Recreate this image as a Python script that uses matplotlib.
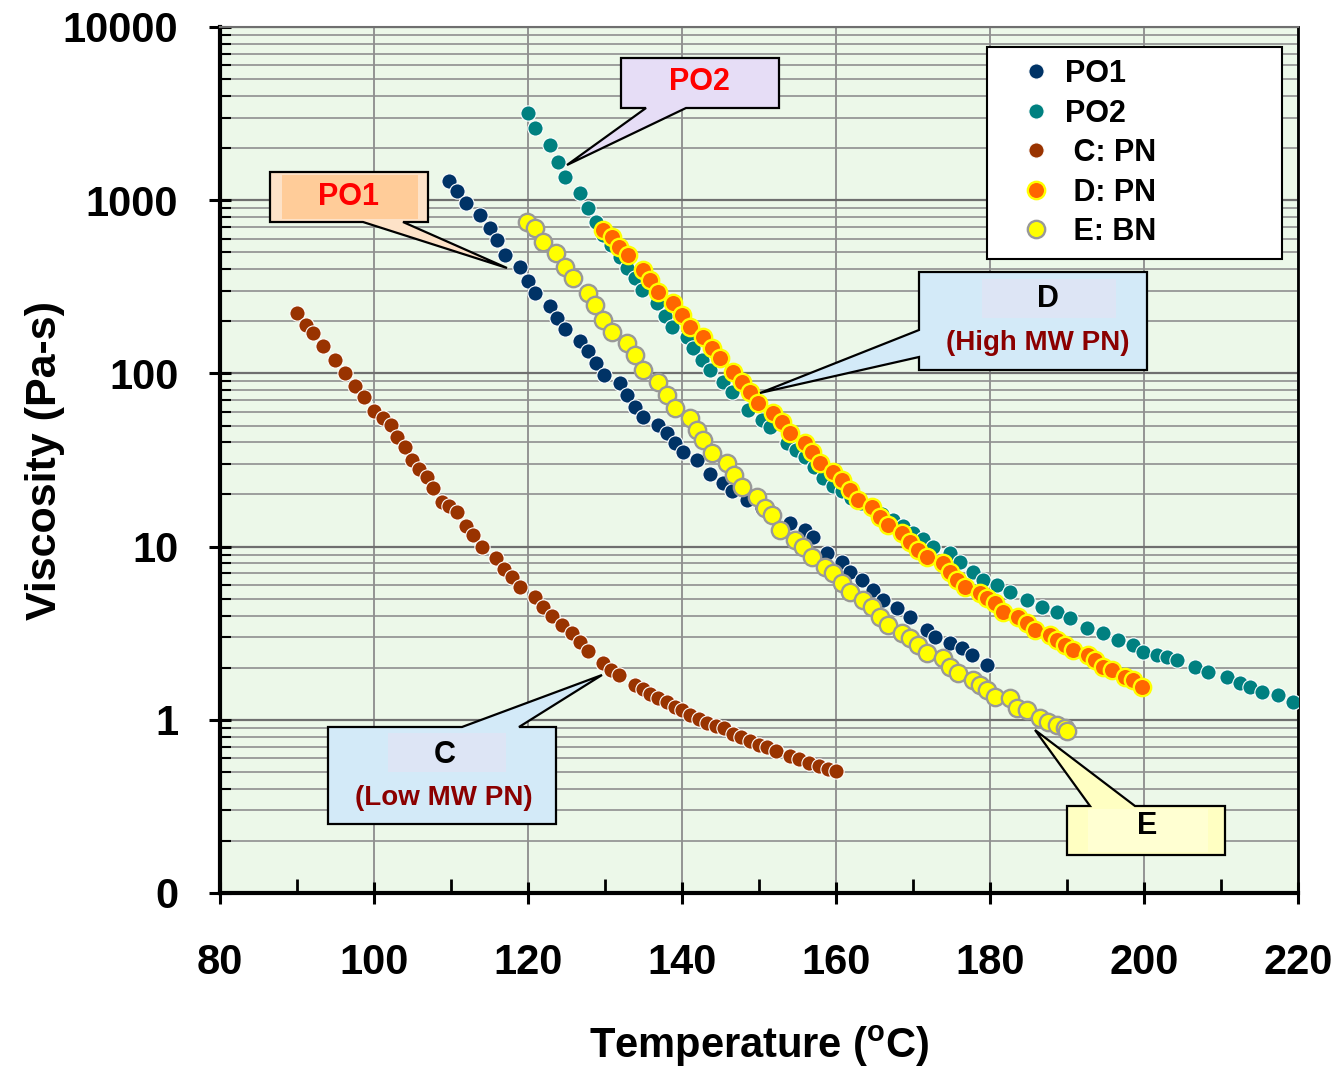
import matplotlib
matplotlib.use('Agg')
import matplotlib.pyplot as plt
from matplotlib.patches import Polygon, Rectangle
from matplotlib.lines import Line2D
from matplotlib.ticker import FixedLocator, FixedFormatter, MultipleLocator, LogLocator, NullFormatter

plt.rcParams['font.family'] = ['Liberation Sans', 'DejaVu Sans']
plt.rcParams['font.weight'] = 'bold'
plt.rcParams['mathtext.fontset'] = 'custom'
plt.rcParams['mathtext.rm'] = 'Liberation Sans:bold'
plt.rcParams['mathtext.bf'] = 'Liberation Sans:bold'
plt.rcParams['mathtext.it'] = 'Liberation Sans:bold'

# ---------------- data (Temperature in C, viscosity in Pa-s) ----------------
po1_t = [109.7, 110.8, 111.9, 113.8, 115.1, 116.0, 117.0, 119.0, 120.0, 120.9, 122.9, 123.8,
         124.8, 126.8, 127.8, 128.8, 129.9, 131.9, 132.9, 133.9, 134.9, 136.9, 138.1, 139.1,
         140.1, 141.9, 143.7, 145.3, 146.5, 148.4, 150.4, 151.8, 154.0, 156.0, 157.0, 158.8,
         160.8, 161.8, 163.4, 164.8, 166.1, 167.9, 169.6, 171.8, 172.9, 174.8, 176.4, 177.7, 179.6]
po1_v = [1288, 1130, 964, 822, 692, 589, 483, 411, 341, 291, 245, 209,
         180, 154, 135, 115, 97.7, 88.1, 75.0, 64.0, 56.0, 50.4, 45.3, 39.6,
         35.2, 31.6, 26.3, 23.3, 20.9, 18.6, 16.7, 15.6, 13.7, 12.5, 11.4, 9.18,
         8.15, 7.13, 6.41, 5.61, 4.92, 4.42, 3.93, 3.31, 3.02, 2.77, 2.60, 2.37, 2.07]

po2_t = [120.0, 120.9, 122.9, 123.9, 124.8, 126.8, 127.8, 128.8, 129.8, 130.8, 131.9, 132.9,
         133.9, 134.8, 136.8, 137.8, 138.7, 140.6, 141.4, 142.6, 143.6, 145.3, 146.5, 148.6,
         150.4, 151.4, 153.6, 154.8, 156.0, 157.2, 158.3, 159.6, 160.8, 162.0, 163.3, 164.6,
         166.0, 167.4, 168.7, 170.0, 171.3, 172.6, 174.8, 176.1, 177.8, 179.1, 180.9, 182.6,
         184.8, 186.8, 188.7, 190.4, 192.6, 194.7, 196.6, 198.6, 199.9, 201.7, 203.0, 204.3,
         206.6, 208.3, 210.8, 212.5, 213.8, 215.3, 217.4, 219.4]
po2_v = [3184, 2612, 2084, 1663, 1361, 1102, 902, 748, 631, 550, 468, 407,
         356, 303, 255, 214, 185, 162, 140, 119, 105, 89.1, 78.2, 61.5,
         53.8, 49.0, 39.6, 36.3, 32.9, 28.8, 24.9, 22.4, 20.9, 19.1, 17.8, 16.6,
         15.5, 14.3, 13.2, 12.0, 11.0, 9.95, 9.18, 8.15, 7.13, 6.41, 6.00, 5.47,
         4.92, 4.48, 4.19, 3.87, 3.39, 3.17, 2.89, 2.70, 2.46, 2.37, 2.29, 2.21,
         2.02, 1.89, 1.77, 1.63, 1.55, 1.45, 1.39, 1.27]

c_t = [90.0, 91.2, 92.1, 93.4, 94.9, 96.2, 97.5, 98.7, 100.0, 101.2, 102.2, 103.0,
       104.0, 104.9, 105.8, 106.9, 107.7, 108.8, 109.8, 110.8, 111.9, 112.9, 114.0, 115.8,
       116.9, 117.9, 119.0, 120.9, 122.0, 123.1, 124.4, 125.7, 126.8, 127.8, 129.7, 130.8,
       131.8, 133.9, 134.9, 135.9, 136.9, 138.0, 139.1, 140.0, 141.1, 142.2, 143.3, 144.4,
       145.5, 146.6, 147.7, 148.8, 150.0, 151.1, 152.2, 154.0, 155.2, 156.5, 157.8, 159.0, 160.0]
c_v = [223, 190, 171, 144, 119, 100, 84.5, 73.1, 60.7, 55.0, 50.4, 43.0,
       37.6, 31.6, 28.2, 25.2, 21.8, 18.1, 17.2, 15.8, 13.2, 11.7, 10.0, 8.59,
       7.41, 6.67, 5.85, 5.12, 4.47, 3.97, 3.55, 3.17, 2.82, 2.51, 2.14, 1.95,
       1.82, 1.58, 1.50, 1.41, 1.34, 1.26, 1.19, 1.14, 1.07, 1.01, 0.955, 0.923,
       0.891, 0.832, 0.794, 0.759, 0.716, 0.692, 0.661, 0.617, 0.596, 0.562, 0.543, 0.519, 0.506]

d_t = [129.7, 130.9, 131.8, 133.0, 134.9, 135.8, 136.9, 138.8, 140.0, 141.0, 142.7, 143.9,
       144.9, 146.6, 147.8, 148.8, 149.9, 151.8, 153.0, 154.0, 156.0, 156.9, 157.9, 159.6,
       160.8, 161.8, 162.9, 164.7, 165.7, 166.8, 168.6, 169.6, 170.6, 171.8, 173.9, 174.8,
       175.7, 176.8, 178.7, 179.6, 180.6, 181.7, 183.6, 184.8, 185.8, 187.8, 188.7, 189.7,
       190.8, 192.7, 193.6, 194.7, 195.8, 197.5, 198.6, 199.7]
d_v = [673, 614, 537, 483, 395, 346, 295, 255, 217, 185, 162, 140,
       123, 102, 89.1, 78.2, 67.5, 59.0, 52.4, 45.3, 39.6, 35.2, 30.4, 27.0,
       24.3, 21.2, 18.6, 16.9, 14.8, 13.3, 12.0, 10.6, 9.55, 8.71, 8.04, 7.13,
       6.41, 5.85, 5.40, 5.05, 4.72, 4.19, 3.93, 3.62, 3.30, 3.09, 2.89, 2.70,
       2.53, 2.37, 2.21, 2.02, 1.94, 1.77, 1.70, 1.55]

e_t = [119.9, 120.9, 121.9, 123.6, 124.8, 125.8, 127.8, 128.7, 129.7, 130.9, 132.9, 133.9,
       134.9, 136.9, 138.1, 139.1, 141.0, 141.9, 142.7, 143.9, 145.8, 146.8, 147.8, 149.7,
       150.8, 151.7, 152.7, 154.7, 155.7, 156.9, 158.6, 159.6, 160.8, 161.8, 163.5, 164.7,
       165.7, 166.8, 168.6, 169.6, 170.6, 171.8, 173.9, 174.8, 175.8, 177.8, 178.7, 179.6,
       180.6, 182.6, 183.5, 184.8, 186.5, 187.5, 188.7, 189.7, 190.0]
e_v = [748, 692, 574, 495, 411, 356, 291, 248, 203, 173, 150, 128,
       105, 89.1, 75.0, 63.1, 55.2, 47.1, 41.2, 34.7, 30.4, 25.9, 22.1, 19.3,
       16.7, 15.2, 12.5, 10.9, 9.95, 8.71, 7.62, 7.05, 6.17, 5.47, 4.92, 4.48,
       3.93, 3.52, 3.17, 2.96, 2.70, 2.43, 2.28, 2.02, 1.86, 1.70, 1.59, 1.49,
       1.36, 1.34, 1.17, 1.14, 1.02, 0.97, 0.93, 0.90, 0.86]

x_ticks = [80, 100, 120, 140, 160, 180, 200, 220]
y_ticks = [0.1, 1, 10, 100, 1000, 10000]
y_tick_labels = ['0', '1', '10', '100', '1000', '10000']

series = [
    ('PO1', po1_t, po1_v, dict(ms=11, mfc='#003366', mec='white', mew=0.8), 3),
    ('PO2', po2_t, po2_v, dict(ms=11, mfc='#008080', mec='white', mew=0.8), 3),
    (' C: PN', c_t, c_v, dict(ms=11, mfc='#993300', mec='white', mew=0.8), 3),
    (' D: PN', d_t, d_v, dict(ms=12.5, mfc='#ff6600', mec='#ffff00', mew=1.7), 4),
    (' E: BN', e_t, e_v, dict(ms=12.5, mfc='#ffff00', mec='#999999', mew=1.7), 5),
]

# ---------------- figure ----------------
W, H = 1338, 1072
fig = plt.figure(figsize=(W / 100, H / 100), dpi=100)
ax = fig.add_axes([220 / W, 1 - 893 / H, 1078 / W, 866 / H])
ax.set_facecolor('#ecf8e9')
ax.set_yscale('log')
ax.set_xlim(80, 220)
ax.set_ylim(0.1, 10000)

ax.xaxis.set_major_locator(FixedLocator(x_ticks))
ax.xaxis.set_minor_locator(MultipleLocator(10))
ax.yaxis.set_major_locator(FixedLocator(y_ticks))
ax.yaxis.set_major_formatter(FixedFormatter(y_tick_labels))
ax.yaxis.set_minor_locator(LogLocator(base=10, subs=range(2, 10), numticks=20))
ax.yaxis.set_minor_formatter(NullFormatter())

ax.set_axisbelow(True)
ax.grid(True, which='major', axis='x', color='#8c8c8c', lw=1.3)
ax.grid(True, which='major', axis='y', color='#6f6f6f', lw=1.6)
ax.grid(True, which='minor', axis='y', color='#8f8f8f', lw=1.2)

ax.tick_params(axis='both', which='major', direction='inout', length=16, width=2.2, color='black')
ax.tick_params(axis='x', which='major', labelsize=30, pad=28)
ax.tick_params(axis='y', which='major', labelsize=30, pad=22)
ax.tick_params(axis='x', which='minor', direction='in', length=10, width=2)
ax.tick_params(axis='y', which='minor', direction='in', length=8, width=1.5)

for s in ['left', 'bottom']:
    ax.spines[s].set_linewidth(3)
    ax.spines[s].set_color('black')
ax.spines['right'].set_linewidth(2)
ax.spines['right'].set_color('black')
ax.spines['top'].set_linewidth(1.5)
ax.spines['top'].set_color('#6f6f6f')

for label, t, v, style, z in series:
    ax.plot(t, v, ls='none', marker='o', zorder=z, **style)

ax.set_xlabel(r'Temperature ($^{\mathbf{o}}$C)', fontsize=30, fontweight='bold')
ax.set_ylabel('Viscosity (Pa-s)', fontsize=31, fontweight='bold')
ax.xaxis.set_label_coords(0.5, -0.1775)
ax.xaxis.label.set_va('center')
ax.yaxis.set_label_coords(-0.162, 0.5)
ax.yaxis.label.set_va('center')

handles = [Line2D([], [], ls='none', marker='o', **st) for _, _, _, st, _ in series]
labels = [s[0] for s in series]
leg = ax.legend(handles, labels, loc='upper left',
                bbox_to_anchor=(0.7115, 0.737, 0.2735, 0.24), mode='expand',
                prop={'size': 22, 'weight': 'bold'}, frameon=True, fancybox=False,
                framealpha=1, edgecolor='black', borderpad=0.4, labelspacing=0.31,
                handlelength=2.4, handletextpad=-0.25, borderaxespad=0)
leg.get_frame().set_linewidth(1.5)
leg.set_zorder(10)


# ---------------- callouts (figure pixel coordinates) ----------------
def P(x, y):
    return (x / W, 1 - y / H)


def callout(verts, fc):
    fig.add_artist(Polygon([P(x, y) for x, y in verts], closed=True, fc=fc, ec='black',
                           lw=1.6, transform=fig.transFigure, zorder=20))


def inner(x0, y0, x1, y1, fc):
    fig.add_artist(Rectangle(P(x0, y1), (x1 - x0) / W, (y1 - y0) / H, fc=fc, ec='none',
                             transform=fig.transFigure, zorder=21))


def label(x, y, s, color, size):
    fig.text(x / W, 1 - y / H, s, color=color, fontsize=size, fontweight='bold',
             ha='center', va='center', zorder=22)


callout([(270, 172), (428, 172), (428, 222), (403, 222), (507, 268), (363, 222), (270, 222)], '#fde2c8')
inner(282, 175, 418, 219, '#ffcc99')
label(349, 197, 'PO1', '#ff0000', 22)

callout([(621, 58), (779, 58), (779, 108), (686, 108), (567, 165), (646, 108), (621, 108)], '#e6ddf6')
label(699, 82, 'PO2', '#ff0000', 22)

callout([(919, 272), (1147, 272), (1147, 370), (919, 370), (919, 357), (760, 393), (919, 330)], '#d3eaf8')
inner(982, 279, 1116, 318, '#dde5f5')
label(1048, 299, 'D', 'black', 22)
label(1038, 343, '(High MW PN)', '#8b0000', 20)

callout([(328, 727), (462, 727), (602, 675), (519, 727), (556, 727), (556, 824), (328, 824)], '#d3eaf8')
inner(388, 733, 506, 772, '#dde5f5')
label(445, 755, 'C', 'black', 22)
label(444, 798, '(Low MW PN)', '#8b0000', 20)

callout([(1067, 806), (1090, 806), (1035, 730), (1135, 806), (1225, 806), (1225, 855), (1067, 855)], '#ffffc2')
inner(1088, 809, 1208, 852, '#ffffd2')
label(1147, 826, 'E', 'black', 22)

fig.savefig('out.png', dpi=100)
